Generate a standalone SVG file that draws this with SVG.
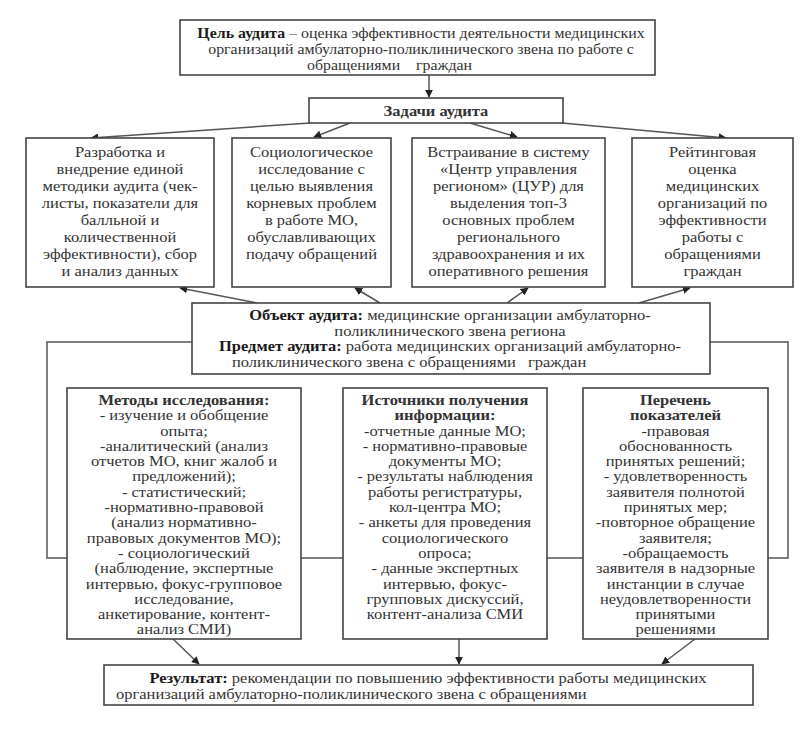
<svg xmlns="http://www.w3.org/2000/svg" width="812" height="733" viewBox="0 0 812 733">
<defs>
<style>
.box{fill:#fff;stroke:#444;stroke-width:1.6}
.frame{fill:none;stroke:#555;stroke-width:1.5}
.ln{fill:none;stroke:#555;stroke-width:1.5}
.t text{font-size:15px;fill:#333}
.c{text-anchor:middle}
.b{font-weight:bold;fill:#1a1a1a}
.k{fill:#111}
</style>
<marker id="ar" viewBox="0 0 10 10" refX="9" refY="5" markerWidth="8" markerHeight="8" markerUnits="userSpaceOnUse" orient="auto">
<path d="M0,0 L10,5 L0,10 z" fill="#222"/>
</marker>
</defs>
<rect width="812" height="733" fill="#fff"/>

<g id="connectors">
<rect class="frame" x="47" y="342" width="741" height="216"/>
<line class="ln" x1="429" y1="75" x2="429" y2="97" marker-end="url(#ar)"/>
<line class="ln" x1="310" y1="123" x2="91" y2="138" marker-end="url(#ar)"/>
<line class="ln" x1="350" y1="123" x2="314" y2="137" marker-end="url(#ar)"/>
<line class="ln" x1="470" y1="123" x2="517" y2="137" marker-end="url(#ar)"/>
<line class="ln" x1="562" y1="123" x2="726" y2="138" marker-end="url(#ar)"/>
<line class="ln" x1="257" y1="303" x2="180" y2="288" marker-end="url(#ar)"/>
<line class="ln" x1="380" y1="303" x2="355" y2="288" marker-end="url(#ar)"/>
<line class="ln" x1="507" y1="303" x2="528" y2="288" marker-end="url(#ar)"/>
<line class="ln" x1="639" y1="303" x2="690" y2="288" marker-end="url(#ar)"/>
<line class="ln" x1="173" y1="639" x2="199" y2="664" marker-end="url(#ar)"/>
<line class="ln" x1="459" y1="639" x2="459" y2="664" marker-end="url(#ar)"/>
<line class="ln" x1="695" y1="639" x2="662" y2="664" marker-end="url(#ar)"/>
</g>

<g class="t" font-family="Liberation Serif, Times New Roman, serif">
<g id="goal">
<rect class="box" x="180" y="20" width="475" height="55"/>
<g transform="matrix(1.06 0 0 1 -25.26 0)">
<text x="421" y="38.5" class="c"><tspan class="b">Цель аудита</tspan> – оценка эффективности деятельности медицинских</text>
<text x="421" y="54.5" class="c">организаций амбулаторно-поликлинического звена по работе с</text>
</g>
<text x="307" y="70" transform="matrix(1.06 0 0 1 -18.42 0)">обращениями</text>
<text x="416" y="70" class="k" transform="matrix(1.06 0 0 1 -24.96 0)">граждан</text>
</g>

<g id="tasks">
<rect class="box" x="309" y="98" width="254" height="25"/>
<text x="436" y="116" class="c b" transform="matrix(1.1 0 0 1 -43.6 0)">Задачи аудита</text>
</g>

<g id="task1">
<rect class="box" x="26" y="138" width="188" height="149"/>
<g transform="matrix(1.1 0 0 1 -12 0)">
<text class="c" x="120" y="157">Разработка и</text>
<text class="c" x="120" y="174">внедрение единой</text>
<text class="c" x="120" y="191">методики аудита (чек-</text>
<text class="c" x="120" y="208">листы, показатели для</text>
<text class="c" x="120" y="225">балльной и</text>
<text class="c" x="120" y="242">количественной</text>
<text class="c" x="120" y="259">эффективности), сбор</text>
<text class="c" x="120" y="276">и анализ данных</text>
</g>
</g>

<g id="task2">
<rect class="box" x="232" y="138" width="159" height="149"/>
<g transform="matrix(1.1 0 0 1 -31.15 0)">
<text class="c" x="311.5" y="157">Социологическое</text>
<text class="c" x="311.5" y="174">исследование с</text>
<text class="c" x="311.5" y="191">целью выявления</text>
<text class="c" x="311.5" y="208">корневых проблем</text>
<text class="c" x="311.5" y="225">в работе МО,</text>
<text class="c" x="311.5" y="242">обуславливающих</text>
<text class="c" x="311.5" y="259">подачу обращений</text>
</g>
</g>

<g id="task3">
<rect class="box" x="412" y="138" width="193" height="149"/>
<g transform="matrix(1.1 0 0 1 -50.85 0)">
<text class="c" x="508.5" y="157">Встраивание в систему</text>
<text class="c" x="508.5" y="174">«Центр управления</text>
<text class="c" x="508.5" y="191">регионом» (ЦУР) для</text>
<text class="c" x="508.5" y="208">выделения топ-3</text>
<text class="c" x="508.5" y="225">основных проблем</text>
<text class="c" x="508.5" y="242">регионального</text>
<text class="c" x="508.5" y="259">здравоохранения и их</text>
<text class="c" x="508.5" y="276">оперативного решения</text>
</g>
</g>

<g id="task4">
<rect class="box" x="632" y="138" width="161" height="149"/>
<g transform="matrix(1.1 0 0 1 -71.25 0)">
<text class="c" x="712.5" y="157">Рейтинговая</text>
<text class="c" x="712.5" y="174">оценка</text>
<text class="c" x="712.5" y="191">медицинских</text>
<text class="c" x="712.5" y="208">организаций по</text>
<text class="c" x="712.5" y="225">эффективности</text>
<text class="c" x="712.5" y="242">работы с</text>
<text class="c" x="712.5" y="259">обращениями</text>
<text class="c k" x="712.5" y="276">граждан</text>
</g>
</g>

<g id="object">
<rect class="box" x="192" y="303" width="518" height="71"/>
<g transform="matrix(1.1 0 0 1 -45 0)">
<text class="c" x="450" y="320.5"><tspan class="b">Объект аудита:</tspan> медицинские организации амбулаторно-</text>
<text class="c" x="450" y="336">поликлинического звена региона</text>
<text class="c" x="450" y="351.5"><tspan class="b">Предмет аудита:</tspan> работа медицинских организаций амбулаторно-</text>
</g>
<text x="232" y="367" transform="matrix(1.1 0 0 1 -23.2 0)">поликлинического звена с обращениями</text>
<text x="528" y="367" class="k" transform="matrix(1.1 0 0 1 -52.8 0)">граждан</text>
</g>

<g id="methods">
<rect class="box" x="67" y="388" width="234" height="251"/>
<g transform="matrix(1.1 0 0 1 -18.4 0)">
<text class="c b" x="184" y="405">Методы исследования:</text>
<text class="c" x="184" y="420.3">- изучение и обобщение</text>
<text class="c" x="184" y="435.6">опыта;</text>
<text class="c" x="184" y="450.9">-аналитический (анализ</text>
<text class="c" x="184" y="466.2">отчетов МО, книг жалоб и</text>
<text class="c" x="184" y="481.5">предложений);</text>
<text class="c" x="184" y="496.8">- статистический;</text>
<text class="c" x="184" y="512.1">-нормативно-правовой</text>
<text class="c" x="184" y="527.4">(анализ нормативно-</text>
<text class="c" x="184" y="542.7">правовых документов МО);</text>
<text class="c" x="184" y="558">- социологический</text>
<text class="c" x="184" y="573.3">(наблюдение, экспертные</text>
<text class="c" x="184" y="588.6">интервью, фокус-групповое</text>
<text class="c" x="184" y="603.9">исследование,</text>
<text class="c" x="184" y="619.2">анкетирование, контент-</text>
<text class="c" x="184" y="634.5">анализ СМИ)</text>
</g>
</g>

<g id="sources">
<rect class="box" x="343" y="388" width="204" height="251"/>
<g transform="matrix(1.1 0 0 1 -44.5 0)">
<text class="c b" x="445" y="405">Источники получения</text>
<text class="c b" x="445" y="420.3">информации:</text>
<text class="c" x="445" y="435.6">-отчетные данные МО;</text>
<text class="c" x="445" y="450.9">- нормативно-правовые</text>
<text class="c" x="445" y="466.2">документы МО;</text>
<text class="c" x="445" y="481.5">- результаты наблюдения</text>
<text class="c" x="445" y="496.8">работы регистратуры,</text>
<text class="c" x="445" y="512.1">кол-центра МО;</text>
<text class="c" x="445" y="527.4">-  анкеты для проведения</text>
<text class="c" x="445" y="542.7">социологического</text>
<text class="c" x="445" y="558">опроса;</text>
<text class="c" x="445" y="573.3">- данные экспертных</text>
<text class="c" x="445" y="588.6">интервью, фокус-</text>
<text class="c" x="445" y="603.9">групповых дискуссий,</text>
<text class="c" x="445" y="619.2">контент-анализа СМИ</text>
</g>
</g>

<g id="indicators">
<rect class="box" x="583" y="388" width="185" height="251"/>
<g transform="matrix(1.1 0 0 1 -67.55 0)">
<text class="c b" x="675.5" y="405">Перечень</text>
<text class="c b" x="675.5" y="420.3">показателей</text>
<text class="c" x="675.5" y="435.6">-правовая</text>
<text class="c" x="675.5" y="450.9">обоснованность</text>
<text class="c" x="675.5" y="466.2">принятых решений;</text>
<text class="c" x="675.5" y="481.5">- удовлетворенность</text>
<text class="c" x="675.5" y="496.8">заявителя полнотой</text>
<text class="c" x="675.5" y="512.1">принятых мер;</text>
<text class="c" x="675.5" y="527.4">-повторное обращение</text>
<text class="c" x="675.5" y="542.7">заявителя;</text>
<text class="c" x="675.5" y="558">-обращаемость</text>
<text class="c" x="675.5" y="573.3">заявителя в надзорные</text>
<text class="c" x="675.5" y="588.6">инстанции в случае</text>
<text class="c" x="675.5" y="603.9">неудовлетворенности</text>
<text class="c" x="675.5" y="619.2">принятыми</text>
<text class="c" x="675.5" y="634.5">решениями</text>
</g>
</g>

<g id="result">
<rect class="box" x="104" y="665" width="649" height="40"/>
<text class="c" x="428" y="683.5" transform="matrix(1.1 0 0 1 -42.8 0)"><tspan class="b">Результат:</tspan> рекомендации по повышению эффективности работы медицинских</text>
<text x="116" y="699" transform="matrix(1.1 0 0 1 -11.6 0)">организаций амбулаторно-поликлинического звена с обращениями</text>
</g>
</g>
</svg>
